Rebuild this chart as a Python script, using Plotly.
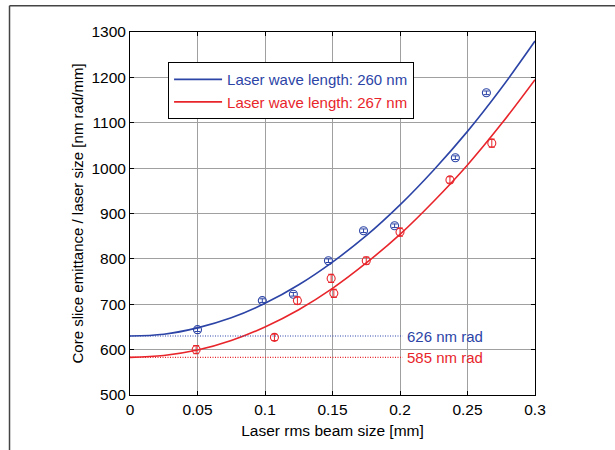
import plotly.graph_objects as go

# Measured points: laser wave length 260 nm
x_260 = [0.050, 0.098, 0.121, 0.147, 0.173, 0.196, 0.241, 0.264]
y_260 = [644, 708, 722, 796, 862, 873, 1023, 1166]
err_260 = [4, 4, 4, 4, 4, 4, 4, 4]

# Measured points: laser wave length 267 nm
x_267 = [0.049, 0.107, 0.124, 0.149, 0.151, 0.175, 0.200, 0.237, 0.268]
y_267 = [600, 627, 708, 757, 724, 796, 859, 974, 1055]
err_267 = [9, 7, 8, 9, 9, 8, 9, 7, 9]

# Fitted curves
fit_x = [0, 0.025, 0.05, 0.075, 0.1, 0.125, 0.15, 0.175, 0.2, 0.225, 0.25, 0.275, 0.3]
fit_260 = [630, 634, 648, 670, 702, 743, 793, 851, 919, 996, 1081, 1176, 1280]
fit_267 = [583, 587, 599, 620, 650, 688, 735, 791, 854, 927, 1007, 1097, 1195]

# Zero-size emittance levels
level_x = [0, 0.202]
level_260 = 630
level_267 = 583
level_labels = ["626 nm rad", "585 nm rad"]

x_ticks = [0, 0.05, 0.1, 0.15, 0.2, 0.25, 0.3]
x_tick_text = ["0", "0.05", "0.1", "0.15", "0.2", "0.25", "0.3"]
y_ticks = [500, 600, 700, 800, 900, 1000, 1100, 1200, 1300]

BLUE = "#2c44a6"
RED = "#e8252b"
FONT = "Liberation Sans, Arial, sans-serif"

fig = go.Figure()

fig.add_trace(go.Scatter(
    x=fit_x, y=fit_260, mode="lines", line=dict(color=BLUE, width=1.6, shape="spline"),
    name="<span style='color:%s'>Laser wave length: 260 nm</span>" % BLUE,
))
fig.add_trace(go.Scatter(
    x=fit_x, y=fit_267, mode="lines", line=dict(color=RED, width=1.6, shape="spline"),
    name="<span style='color:%s'>Laser wave length: 267 nm</span>" % RED,
))

fig.add_trace(go.Scatter(
    x=level_x, y=[level_260] * 2, mode="lines",
    line=dict(color=BLUE, width=1.1, dash="1px,1.5px"), showlegend=False,
))
fig.add_trace(go.Scatter(
    x=level_x, y=[level_267] * 2, mode="lines",
    line=dict(color=RED, width=1.1, dash="1px,1.5px"), showlegend=False,
))

fig.add_trace(go.Scatter(
    x=x_260, y=y_260, mode="markers", showlegend=False,
    marker=dict(symbol="circle-open", size=8, color=BLUE, line=dict(width=1.1)),
    error_y=dict(type="data", array=err_260, visible=True, color=BLUE, thickness=1, width=3),
))
fig.add_trace(go.Scatter(
    x=x_267, y=y_267, mode="markers", showlegend=False,
    marker=dict(symbol="circle-open", size=8, color=RED, line=dict(width=1.1)),
    error_y=dict(type="data", array=err_267, visible=True, color=RED, thickness=1, width=3),
))

for yv, label, col in [(level_260, level_labels[0], BLUE), (level_267, level_labels[1], RED)]:
    fig.add_annotation(
        x=level_x[1], y=yv, text=label, showarrow=False, xanchor="left", yanchor="middle",
        xshift=2, font=dict(color=col, size=15, family=FONT),
    )

# Outer frame lines (left and top edges)
fig.add_shape(type="line", xref="paper", yref="paper", x0=-0.2975, x1=-0.2975, y0=1.072, y1=-0.16,
              line=dict(color="#444444", width=1.5))
fig.add_shape(type="line", xref="paper", yref="paper", x0=-0.2975, x1=1.21, y0=1.072, y1=1.072,
              line=dict(color="#444444", width=1.5))

axis_common = dict(
    showline=True, linecolor="black", linewidth=1, mirror="ticks",
    ticks="inside", ticklen=4, tickcolor="black",
    showgrid=True, gridcolor="#a0a0a0", gridwidth=1, zeroline=False,
    tickfont=dict(size=15.5, family=FONT, color="black"),
)

fig.update_xaxes(
    range=[0, 0.3], tickvals=x_ticks, ticktext=x_tick_text,
    title=dict(text="Laser rms beam size [mm]", font=dict(size=15.5, family=FONT, color="black"), standoff=8),
    **axis_common,
)
fig.update_yaxes(
    range=[500, 1300], tickvals=y_ticks,
    title=dict(text="Core slice emittance / laser size [nm rad/mm]",
               font=dict(size=15, family=FONT, color="black"), standoff=4),
    **axis_common,
)

fig.update_layout(
    width=615, height=450,
    margin=dict(l=130, r=80, t=32, b=55),
    paper_bgcolor="white", plot_bgcolor="white",
    font=dict(family=FONT, size=15, color="black"),
    legend=dict(
        x=0.094, y=0.917, xanchor="left", yanchor="top",
        bgcolor="white", bordercolor="black", borderwidth=1,
        font=dict(size=15, family=FONT), tracegroupgap=0, itemwidth=48,
    ),
)

fig.write_html("out.html")
